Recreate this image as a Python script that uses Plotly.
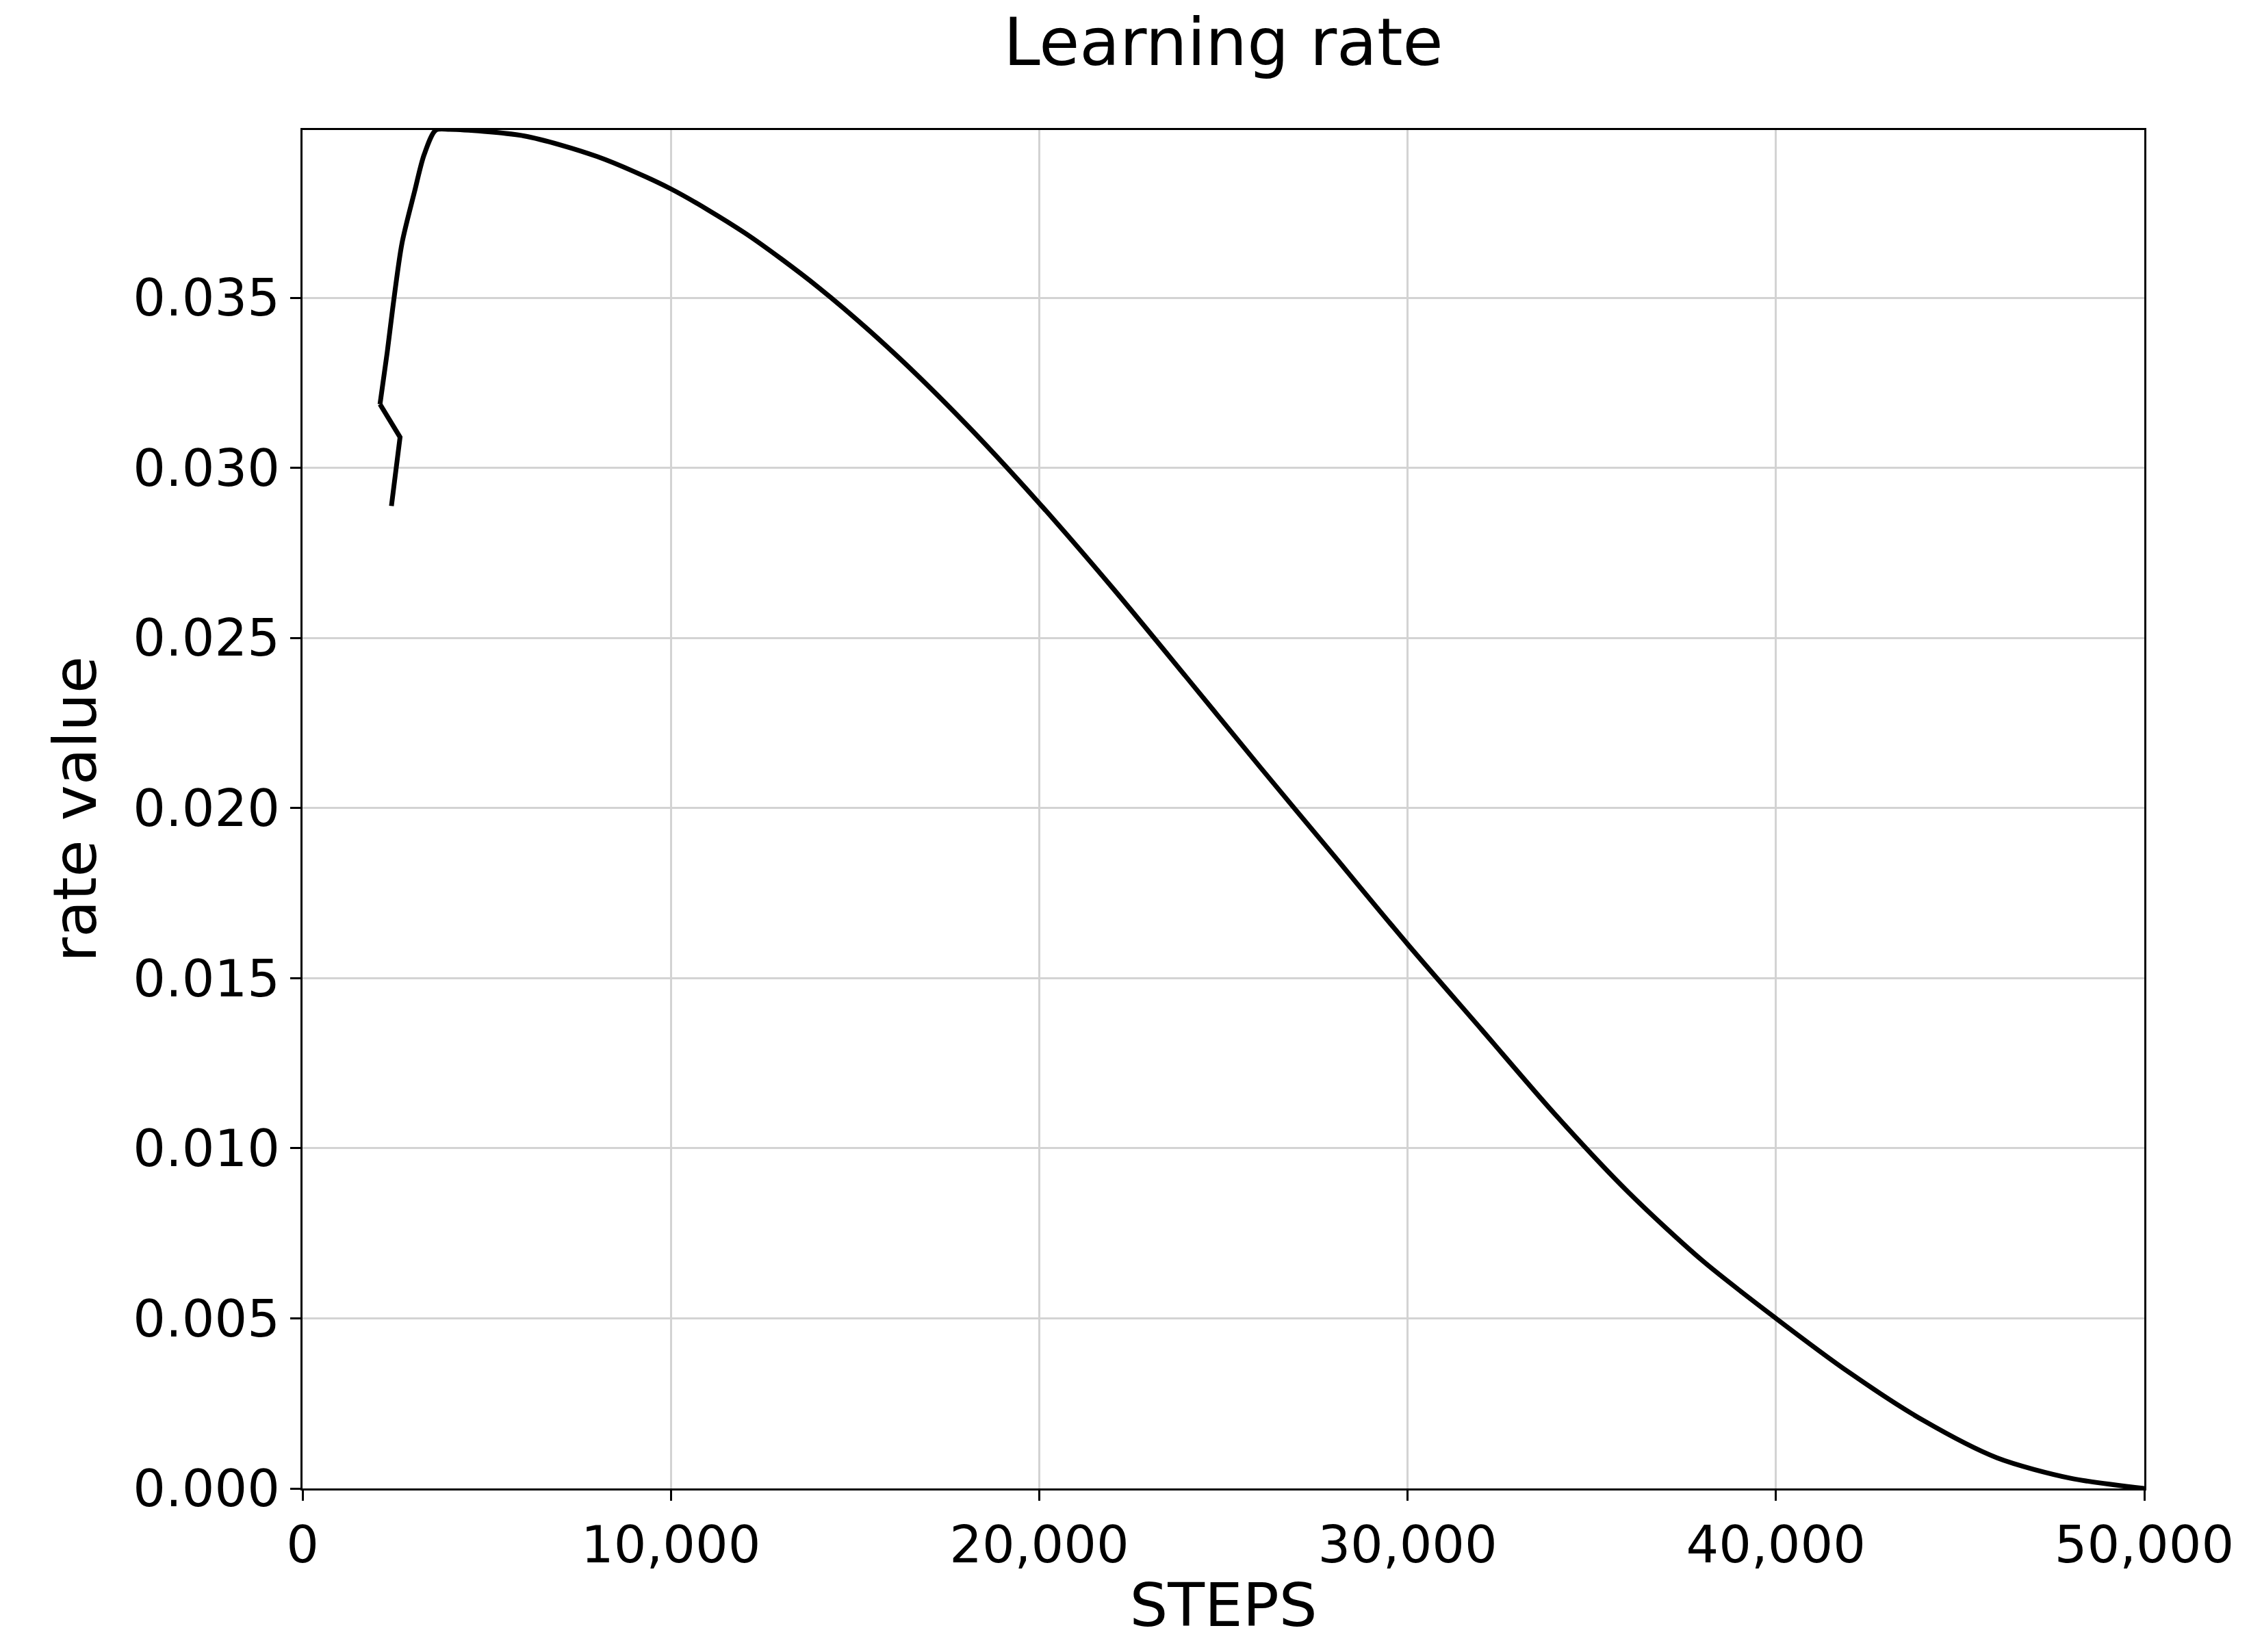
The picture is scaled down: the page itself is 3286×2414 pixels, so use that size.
import plotly.graph_objects as go

# values
steps = [2414, 2648, 2103, 2300, 2450, 2700, 3037, 3300, 3620, 4000, 6000, 8000, 10000, 12000,
         14000, 16000, 18000, 20000, 22000, 24000, 26000, 28000, 30000, 32000, 34000,
         36000, 38000, 40000, 42000, 44000, 46000, 48000, 50000]
rate = [0.02888, 0.0309, 0.03187, 0.0334, 0.0347, 0.0366, 0.0381, 0.0392, 0.03993, 0.03995,
        0.03976, 0.03915, 0.0382, 0.03691, 0.03531, 0.03343, 0.0313, 0.02896, 0.02646,
        0.02384, 0.0212, 0.0186, 0.0160, 0.0135, 0.0110, 0.0087, 0.0067, 0.0050,
        0.0034, 0.0020, 0.0009, 0.0003, 0.0]

k = 3  # first points are the jagged warm-up part, drawn straight
fig = go.Figure()
fig.add_trace(go.Scatter(x=steps[:k], y=rate[:k], mode="lines",
                         line=dict(color="black", width=7)))
fig.add_trace(go.Scatter(x=steps[k - 1:], y=rate[k - 1:], mode="lines",
                         line=dict(color="black", width=7, shape="spline", smoothing=0.8)))

font = "DejaVu Sans"
fig.update_layout(
    width=3286, height=2414,
    margin=dict(l=434, r=161, t=182, b=247),
    paper_bgcolor="white", plot_bgcolor="white",
    font=dict(family=font, size=75, color="black"),
    title=dict(text="Learning rate", x=0.5, xref="paper", xanchor="center",
               y=0.992, yanchor="top", font=dict(size=96)),
    showlegend=False,
)
axis_common = dict(showline=True, linecolor="black", linewidth=3, mirror=True,
                   showgrid=True, gridcolor="#d3d3d3", gridwidth=3,
                   ticks="outside", ticklen=15, tickwidth=3, tickcolor="black",
                   zeroline=False)
fig.update_xaxes(range=[0, 50000], dtick=10000, tickformat=",",
                 title=dict(text="STEPS", font=dict(size=88), standoff=15), **axis_common)
fig.update_yaxes(range=[0, 0.03993], dtick=0.005, tickformat=".3f",
                 title=dict(text="rate value", font=dict(size=88), standoff=25), **axis_common)

fig.write_html("out.html")
